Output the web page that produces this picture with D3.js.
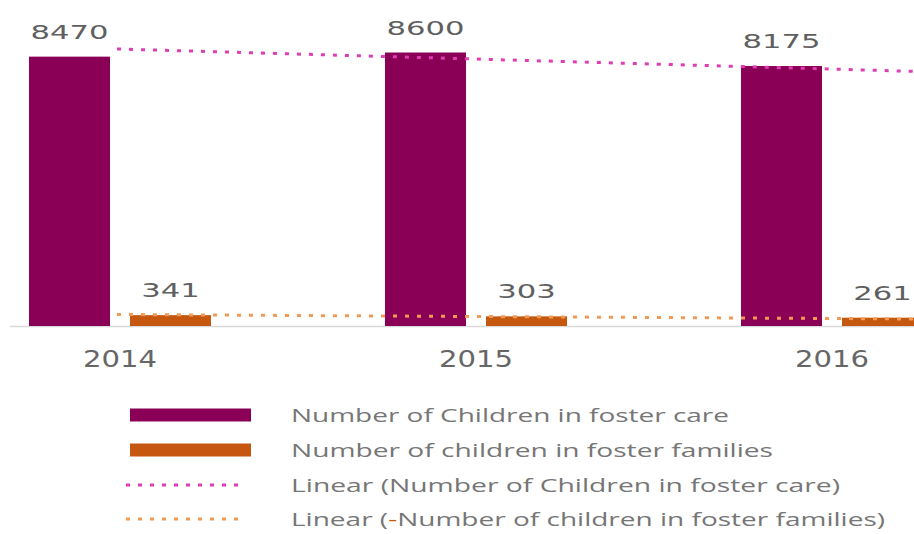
<!DOCTYPE html>
<html>
<head>
<meta charset="utf-8">
<script src="https://cdn.jsdelivr.net/npm/d3@7"></script>
<style>
  body { margin: 0; background: #fff; }
  svg { display: block; }
</style>
</head>
<body>
<svg id="chart"></svg>
<script>
// data
const years = ["2014", "2015", "2016"];
const seriesNames = [
  "Number of Children in foster care",
  "Number of children in foster families"
];
const childrenInCare = [8470, 8600, 8175];
const childrenInFamilies = [341, 303, 261];
// trendline values at its two ends (2014 .. beyond the cropped edge)
const trendYears = [2014, 2017];
const trendCare = [8711, 7767];
const trendFamilies = [362, 173];
const legendLabels = [
  "Number of Children in foster care",
  "Number of children in foster families",
  "Linear (Number of Children in foster care)",
  "Linear (-Number of children in foster families)"
];

const W = 914, H = 534;
const purple = "#8a0057", orange = "#c5570f";
const pink = "#e03db4", lightOrange = "#f29a55";

const svg = d3.select("#chart").attr("width", W).attr("height", H);

const x0 = d3.scaleBand().domain(years).range([-58, 1010]).padding(0);
const x1 = d3.scaleBand().domain(seriesNames).range([87, 269]).paddingInner(0.198);
const y = d3.scaleLinear().domain([0, 10251]).range([326, 0]);
const xYear = d3.scaleLinear()
  .domain([2014, 2016])
  .range([x0("2014") + x0.bandwidth() / 2 - 3, x0("2016") + x0.bandwidth() / 2 - 3]);

const rows = years.map((yr, i) => ({
  year: yr,
  vals: [
    { name: seriesNames[0], v: childrenInCare[i], color: purple },
    { name: seriesNames[1], v: childrenInFamilies[i], color: orange }
  ]
}));

// axis line
svg.append("line")
  .attr("x1", 10).attr("x2", W)
  .attr("y1", y(0) + 0.5).attr("y2", y(0) + 0.5)
  .attr("stroke", "#d9d9d9").attr("stroke-width", 1.5);

const groups = svg.selectAll(".grp")
  .data(rows)
  .enter()
  .append("g")
  .attr("class", "grp")
  .attr("transform", (d) => `translate(${x0(d.year)},0)`);

groups.selectAll("rect")
  .data((d) => d.vals)
  .enter()
  .append("rect")
  .attr("x", (d) => x1(d.name))
  .attr("y", (d) => y(d.v))
  .attr("width", x1.bandwidth())
  .attr("height", (d) => y(0) - y(d.v))
  .attr("fill", (d) => d.color);

// value labels (source image is stretched horizontally, so force widths)
groups.selectAll(".val")
  .data((d) => d.vals)
  .enter()
  .append("text")
  .attr("class", "val")
  .attr("x", (d) => x1(d.name) + x1.bandwidth() / 2)
  .attr("y", (d) => y(d.v) - 18)
  .attr("text-anchor", "middle")
  .attr("font-family", "DejaVu Sans, sans-serif")
  .attr("font-size", 20)
  .attr("fill", "#5f5f5f")
  .attr("textLength", (d) => String(d.v).length * 19.5)
  .attr("lengthAdjust", "spacingAndGlyphs")
  .text((d) => d.v);

// category labels
svg.selectAll(".yr")
  .data(years)
  .enter()
  .append("text")
  .attr("class", "yr")
  .attr("x", (d) => x0(d) + x0.bandwidth() / 2)
  .attr("y", 367)
  .attr("text-anchor", "middle")
  .attr("font-family", "DejaVu Sans, sans-serif")
  .attr("font-size", 23)
  .attr("fill", "#666")
  .attr("textLength", 74)
  .attr("lengthAdjust", "spacingAndGlyphs")
  .text((d) => d);

// trendlines
const trendLine = d3.line().x((d) => xYear(d[0])).y((d) => y(d[1]));
svg.append("path")
  .datum(trendYears.map((t, i) => [t, trendFamilies[i]]))
  .attr("d", trendLine)
  .attr("fill", "none")
  .attr("stroke", lightOrange)
  .attr("stroke-width", 3)
  .attr("stroke-dasharray", "4,8");
svg.append("path")
  .datum(trendYears.map((t, i) => [t, trendCare[i]]))
  .attr("d", trendLine)
  .attr("fill", "none")
  .attr("stroke", pink)
  .attr("stroke-width", 3)
  .attr("stroke-dasharray", "4,8");

// legend
const legendWidths = [438, 482, 549, 594];
const legend = svg.append("g").attr("class", "legend");
const items = legend.selectAll(".item")
  .data(legendLabels)
  .enter()
  .append("g")
  .attr("class", "item")
  .attr("transform", (d, i) => `translate(0,${[415, 450, 485, 519][i]})`);

items.each(function (d, i) {
  const g = d3.select(this);
  if (i < 2) {
    g.append("rect")
      .attr("x", 130).attr("y", -6.5)
      .attr("width", 121).attr("height", 13)
      .attr("fill", i === 0 ? purple : orange);
  } else {
    g.append("line")
      .attr("x1", 126).attr("x2", 246)
      .attr("y1", 0).attr("y2", 0)
      .attr("stroke", i === 2 ? pink : lightOrange)
      .attr("stroke-width", 3)
      .attr("stroke-dasharray", "4,8");
  }
  const t = g.append("text")
    .attr("x", 291)
    .attr("y", 7)
    .attr("font-family", "Open Sans, sans-serif")
    .attr("font-size", 19)
    .attr("fill", "#767676")
    .attr("textLength", legendWidths[i])
    .attr("lengthAdjust", "spacingAndGlyphs");
  if (i === 3) {
    t.append("tspan").text("Linear (");
    t.append("tspan").attr("fill", orange).text("-");
    t.append("tspan").text(d.replace("Linear (-", ""));
  } else {
    t.text(d);
  }
});
</script>
</body>
</html>
